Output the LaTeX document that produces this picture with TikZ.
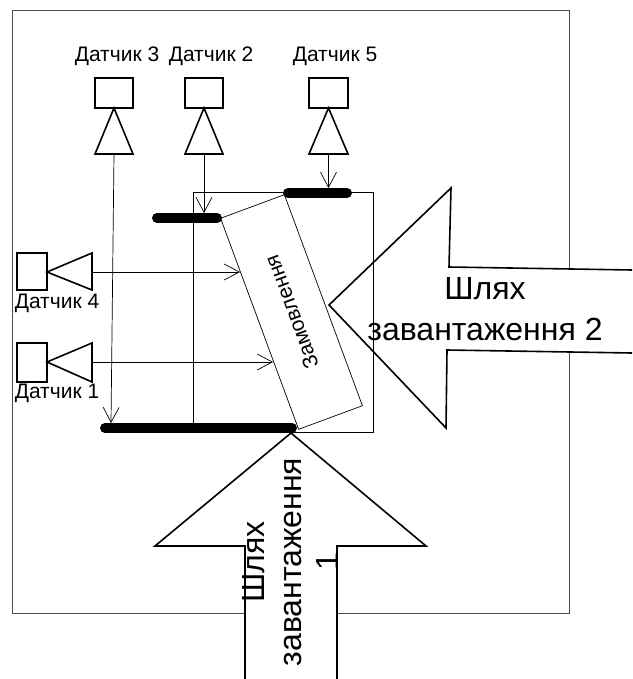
\documentclass[tikz,border=0pt]{standalone}
\usepackage{fontspec}
\setmainfont{Liberation Sans}
\usetikzlibrary{arrows.meta}
\begin{document}
\begin{tikzpicture}[x=1pt,y=-1pt,
  frame/.style={draw=black!70, line width=0.9pt},
  bigarrow/.style={draw=black, fill=white, line width=1.6pt, line join=miter},
  sensorbox/.style={draw, line width=1.6pt, rectangle, inner sep=0pt},
  sensortri/.style={draw, line width=1.6pt, fill=white, line join=miter},
  bar/.style={line width=10pt, line cap=round},
  thinline/.style={line width=0.7pt},
  sig/.style={thinline, -{Straight Barb[length=15pt,width=16pt,line width=0.7pt]}},
  lbl/.style={font=\fontsize{21}{24}\selectfont, inner sep=0pt},
  ]
\useasboundingbox (0,0) rectangle (632,679);
\fill[white] (0,0) rectangle (632,679);
% outer frame
\draw[frame] (12.5,10.5) rectangle (569,613.5);
% big arrow 1 (up)
\draw[bigarrow] (245,679) -- (245,546) -- (155,546) -- (291,433) -- (426,546) -- (337,546) -- (337,679);
\node[rotate=90, align=center, inner sep=0pt, font=\fontsize{32}{37}\selectfont] (path1) at (290,562) {Шлях\\завантаження\\1};
% big arrow 2 (left)
\draw[bigarrow] (632,270) -- (449,267) -- (451,188) -- (329,305) -- (446,428) -- (447,350) -- (632,353);
\node[align=center, inner sep=0pt, font=\fontsize{32}{41}\selectfont] (path2) at (485,309) {Шлях\\завантаження 2};
% inner thin rectangle
\draw[thinline] (193,192) rectangle (373,432);
% rotated order rectangle
\node[draw, thinline, minimum width=225pt, minimum height=68pt, rotate=110.3,
      font=\fontsize{21}{24}\selectfont] (zam) at (291.5,312) {Замовлення};
% bars
\coordinate (bl1) at (157,218); \coordinate (bl2) at (217,218);
\coordinate (br1) at (288,193); \coordinate (br2) at (347,193);
\coordinate (bb1) at (105,428); \coordinate (bb2) at (292,428);
\draw[bar] (bl1) -- (bl2);
\draw[bar] (br1) -- (br2);
\draw[bar] (bb1) -- (bb2);
% sensors 3, 2, 5 (top)
\node[sensorbox, minimum width=38pt, minimum height=30pt] (s3box) at (114,93) {};
\node[sensorbox, minimum width=38pt, minimum height=30pt] (s2box) at (204,93) {};
\node[sensorbox, minimum width=39pt, minimum height=30pt] (s5box) at (328.5,93) {};
\draw[sensortri] (114,108) -- (133,154) -- (95,154) -- cycle;
\draw[sensortri] (204,108) -- (223,154) -- (185,154) -- cycle;
\draw[sensortri] (328.5,108) -- (348,154) -- (309,154) -- cycle;
\coordinate (s3out) at (114,154);
\coordinate (s2out) at (204,154);
\coordinate (s5out) at (328.5,154);
\node[lbl] (l3) at (117,56) {Датчик 3};
\node[lbl] (l2) at (211,56) {Датчик 2};
\node[lbl] (l5) at (335,56) {Датчик 5};
% sensors 4, 1 (left)
\node[sensorbox, minimum width=30pt, minimum height=37pt] (s4box) at (32,271.5) {};
\node[sensorbox, minimum width=30pt, minimum height=39pt] (s1box) at (32,362.5) {};
\draw[sensortri] (47,272) -- (92,253) -- (92,290) -- cycle;
\draw[sensortri] (47,362) -- (92,343) -- (92,382) -- cycle;
\coordinate (s4out) at (92,272);
\coordinate (s1out) at (92,362);
\node[lbl] (l4) at (57,303) {Датчик 4};
\node[lbl] (l1) at (57,393) {Датчик 1};
% signal connectors
\coordinate (s3in) at (111,423);
\coordinate (s2in) at (204,213);
\coordinate (s5in) at (328.5,188);
\coordinate (s4in) at (240,272);
\coordinate (s1in) at (273,362);
\draw[sig] (s3out) -- (s3in);
\draw[sig] (s2out) -- (s2in);
\draw[sig] (s5out) -- (s5in);
\draw[sig] (s4out) -- (s4in);
\draw[sig] (s1out) -- (s1in);
\end{tikzpicture}
\end{document}
